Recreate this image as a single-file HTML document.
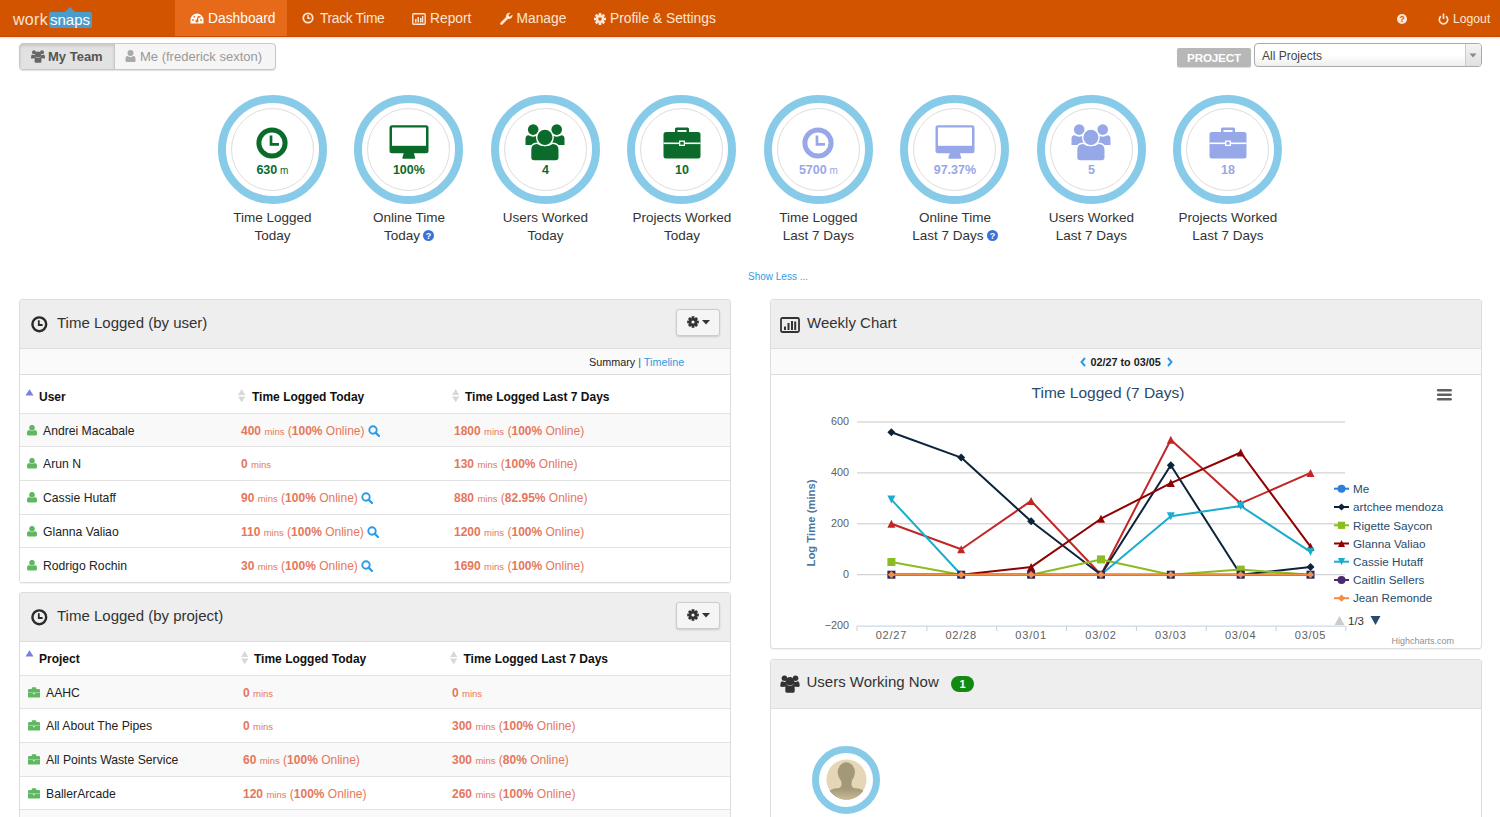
<!DOCTYPE html>
<html><head><meta charset="utf-8">
<style>
*{box-sizing:border-box;margin:0;padding:0}
html,body{width:1500px;height:817px;overflow:hidden;background:#fff;font-family:"Liberation Sans",sans-serif;color:#333;position:relative}
.a{position:absolute}
#hdr{left:0;top:0;width:1500px;height:37px;background:#d35400;border-bottom:1px solid #c54a00;box-shadow:0 1px 2px rgba(211,84,0,.25)}
.nav{top:0;height:36px;line-height:38px;font-size:13.8px;color:#fbe6d4;white-space:nowrap}
.nav svg{position:absolute}
.act{background:#e66a19;left:175px;width:112px;color:#fff}
.btng{left:19px;top:43px;width:257px;height:27px;border:1px solid #c8c8c8;border-radius:4px;background:#f5f5f5;box-shadow:0 1px 1px rgba(0,0,0,.12)}
.panel{border:1px solid #ddd;border-radius:3px;background:#fff;overflow:hidden;box-shadow:0 1px 1px rgba(0,0,0,.05)}
.ph{position:absolute;left:0;top:0;right:0;height:49px;background:#eee;border-bottom:1px solid #ddd}
.pt{position:absolute;top:14px;font-size:15px;color:#333;white-space:nowrap}
.gear{position:absolute;width:44px;height:27px;border:1px solid #ccc;border-radius:3px;background:#f5f5f5;box-shadow:0 1px 2px rgba(0,0,0,.15)}
.circ{width:109px;height:109px;border-radius:50%;border:8px solid #88cbe8;top:95px}
.circ .in{position:absolute;left:5px;top:5px;width:83px;height:83px;border-radius:50%;border:1px solid #ddd}
.lbl{top:209.3px;width:140px;text-align:center;font-size:13.5px;line-height:18px;color:#333}
.val{position:absolute;left:0;width:93px;top:62px;text-align:center;font-weight:bold;font-size:12.5px;line-height:14px}
.g{color:#0b6b2e}.p{color:#9aa5e8}
.valt{top:163px;width:100px;text-align:center;font-weight:bold;font-size:12.5px;line-height:14px}
.th{font-size:12px;font-weight:bold;color:#111;line-height:16px;white-space:nowrap}
.td{font-size:12.2px;color:#222;line-height:16px;white-space:nowrap}
.v{color:#e5775c;font-size:12px}
.v small{font-size:9.5px}
</style></head><body>
<div id="hdr" class="a"></div>
<!-- logo -->
<div class="a" style="left:13px;top:10px;font-size:16px;line-height:20px;color:#f7e4d6;letter-spacing:0.3px;font-weight:normal">work</div>
<svg class="a" style="left:48px;top:6px" width="45" height="23" viewBox="0 0 45 23"><path d="M17 6 L22 1 L27 6 Z" fill="#4a9ccb"/><rect x="1" y="6" width="43" height="16" rx="2" fill="#4a9ccb"/></svg>
<div class="a" style="left:50px;top:10px;font-size:15px;line-height:20px;color:#fff;letter-spacing:0px">snaps</div>
<!-- nav -->
<div class="a nav act"></div>
<svg class="a" style="left:189.5px;top:13px" width="14" height="12" viewBox="0 0 14 12"><path d="M7 0.5 A6.5 6.5 0 0 0 0.5 7 L0.5 10.5 L13.5 10.5 L13.5 7 A6.5 6.5 0 0 0 7 0.5Z" fill="#fff"/><circle cx="7" cy="8" r="1.6" fill="#e66a19"/><path d="M7 8 L8.5 3" stroke="#e66a19" stroke-width="1.3"/><circle cx="3" cy="7" r="0.9" fill="#e66a19"/><circle cx="4.2" cy="3.8" r="0.9" fill="#e66a19"/><circle cx="11" cy="7" r="0.9" fill="#e66a19"/><circle cx="9.8" cy="3.8" r="0.9" fill="#e66a19"/></svg>
<div class="a nav" style="left:208px;color:#fff">Dashboard</div>
<svg class="a" style="left:302px;top:12px" width="12" height="12" viewBox="0 0 12 12"><circle cx="6" cy="6" r="4.7" fill="none" stroke="#fbe6d4" stroke-width="1.8"/><path d="M6 3 V6.3 H8.3" fill="none" stroke="#fbe6d4" stroke-width="1.4"/></svg>
<div class="a nav" style="left:320px;letter-spacing:-0.33px">Track Time</div>
<svg class="a" style="left:412px;top:12.5px" width="14" height="12" viewBox="0 0 14 12"><rect x="0.8" y="0.8" width="12.4" height="10.4" rx="1" fill="none" stroke="#fbe6d4" stroke-width="1.4"/><rect x="3" y="6" width="1.5" height="3.5" fill="#fbe6d4"/><rect x="5.5" y="4" width="1.5" height="5.5" fill="#fbe6d4"/><rect x="8" y="5" width="1.5" height="4.5" fill="#fbe6d4"/><rect x="10" y="3" width="1.3" height="6.5" fill="#fbe6d4"/></svg>
<div class="a nav" style="left:430px">Report</div>
<svg class="a" style="left:500px;top:12px" width="13" height="13" viewBox="0 0 13 13"><path d="M1.5 11.5 L7 6" stroke="#fbe6d4" stroke-width="2.6" stroke-linecap="round"/><path d="M6 5 A3.6 3.6 0 0 1 10.5 0.8 L8.5 3 L9 4.3 L10.3 4.6 L12.3 2.6 A3.6 3.6 0 0 1 8 7 Z" fill="#fbe6d4"/></svg>
<div class="a nav" style="left:516.5px">Manage</div>
<svg class="a" style="left:594px;top:13px" width="12" height="12" viewBox="-6 -6 12 12"><g fill="#fbe6d4"><circle r="4"/><rect x="-1.3" y="-6" width="2.6" height="12"/><rect x="-1.3" y="-6" width="2.6" height="12" transform="rotate(45)"/><rect x="-1.3" y="-6" width="2.6" height="12" transform="rotate(90)"/><rect x="-1.3" y="-6" width="2.6" height="12" transform="rotate(135)"/></g><circle r="1.7" fill="#d35400"/></svg>
<div class="a nav" style="left:610px">Profile &amp; Settings</div>
<svg class="a" style="left:1397px;top:14px" width="10" height="10" viewBox="0 0 10 10"><circle cx="5" cy="5" r="5" fill="#fbe6d4"/><text x="5" y="8.3" font-size="8.5" font-weight="bold" text-anchor="middle" fill="#d35400" font-family="Liberation Sans">?</text></svg>
<svg class="a" style="left:1437.5px;top:13px" width="11" height="12" viewBox="0 0 11 12"><path d="M3 3.3 A4.2 4.2 0 1 0 8 3.3" fill="none" stroke="#fbe6d4" stroke-width="1.7"/><path d="M5.5 0.5 V6" stroke="#fbe6d4" stroke-width="1.7"/></svg>
<div class="a nav" style="left:1453px;font-size:12.2px">Logout</div>
<!-- button group -->
<div class="a btng"></div>
<div class="a" style="left:20px;top:44px;width:95px;height:25px;background:#e2e2e2;border-right:1px solid #c8c8c8;border-radius:3px 0 0 3px;box-shadow:inset 0 2px 3px rgba(0,0,0,.12)"></div>
<svg class="a" style="left:31px;top:50px" width="14" height="13" viewBox="0 0 14 13"><g fill="#666"><circle cx="3" cy="2.3" r="2"/><circle cx="11" cy="2.3" r="2"/><path d="M0 8 Q0 4.6 1.5 4.6 Q3 5.6 4.5 4.6 L5 4.8 Q4.2 7 5 8.3 L1 8.6 Q0 8.6 0 8Z"/><path d="M14 8 Q14 4.6 12.5 4.6 Q11 5.6 9.5 4.6 L9 4.8 Q9.8 7 9 8.3 L13 8.6 Q14 8.6 14 8Z"/><circle cx="7" cy="4.5" r="3"/><path d="M3.6 9.2 Q3.6 7.3 5 7.2 Q7 8.7 9 7.2 Q10.4 7.3 10.4 9.2 L10.4 11.8 Q10.4 12.8 9.4 12.8 L4.6 12.8 Q3.6 12.8 3.6 11.8Z"/></g></svg>
<div class="a" style="left:48px;top:49px;font-size:13px;font-weight:bold;color:#555;line-height:16px">My Team</div>
<svg class="a" style="left:125px;top:50px" width="11" height="12" viewBox="0 0 11 12"><g fill="#aaa"><circle cx="5.5" cy="3" r="3"/><path d="M0.5 9 Q0.5 6 2.5 6 Q5.5 8 8.5 6 Q10.5 6 10.5 9 L10.5 11 Q10.5 12 9.5 12 L1.5 12 Q0.5 12 0.5 11Z"/></g></svg>
<div class="a" style="left:140px;top:49px;font-size:13px;color:#999;line-height:16px">Me (frederick sexton)</div>
<!-- project -->
<div class="a" style="left:1177px;top:47.5px;width:74px;height:19.5px;background:#b7b7b7;border-radius:2px;box-shadow:0 1px 1px rgba(0,0,0,.15)"></div>
<div class="a" style="left:1177px;top:50px;width:74px;text-align:center;font-size:11.7px;font-weight:bold;color:#fff;line-height:16px;letter-spacing:-0.2px">PROJECT</div>
<div class="a" style="left:1254px;top:43px;width:228px;height:24px;border:1px solid #aaa;border-radius:4px;background:linear-gradient(#fff 0,#fff 50%,#eee 100%)"></div>
<div class="a" style="left:1465px;top:44px;width:16px;height:22px;border-left:1px solid #ccc;background:linear-gradient(#f4f4f4,#e0e0e0);border-radius:0 3px 3px 0"></div>
<svg class="a" style="left:1469px;top:53px" width="8" height="5" viewBox="0 0 8 5"><path d="M0.5 0.5 L7.5 0.5 L4 4.5Z" fill="#888"/></svg>
<div class="a" style="left:1262px;top:48px;font-size:12px;color:#444;line-height:16px">All Projects</div>
<!-- show less -->
<div class="a" style="left:748px;top:270px;font-size:10px;color:#2e9be8;line-height:14px">Show Less ...</div>
<div class="a circ" style="left:217.9px"><div class="in"></div></div>
<svg class="a" style="left:256.3px;top:126.8px" width="32" height="32" viewBox="0 0 32 32"><circle cx="16" cy="16" r="13.1" fill="none" stroke="#0b6b2b" stroke-width="5"/><path d="M15 8.5 V17.4 H23" fill="none" stroke="#0b6b2b" stroke-width="2.7"/></svg>
<div class="a valt" style="left:222.4px;color:#0b6b2b">630<span style="font-weight:normal;font-size:10px"> m</span></div>
<div class="a lbl" style="left:202.4px">Time Logged<br>Today</div>
<div class="a circ" style="left:354.4px"><div class="in"></div></div>
<svg class="a" style="left:388.9px;top:124.5px" width="40" height="34" viewBox="0 0 40 34"><rect x="0.5" y="0.3" width="39" height="28" rx="2.5" fill="#0b6b2b"/><rect x="3" y="2.5" width="34" height="18.3" fill="#fff"/><path d="M14.8 28 L24.8 28 L26.3 33 Q26.3 33.8 25.5 33.8 L14.1 33.8 Q13.3 33.8 13.3 33Z" fill="#0b6b2b"/></svg>
<div class="a valt" style="left:358.9px;color:#0b6b2b">100%</div>
<div class="a lbl" style="left:338.9px">Online Time<br>Today<svg style="vertical-align:-1px;margin-left:3px" width="11" height="11" viewBox="0 0 11 11"><circle cx="5.5" cy="5.5" r="5.5" fill="#3b72d6"/><text x="5.5" y="9" font-size="9" font-weight="bold" text-anchor="middle" fill="#fff" font-family="Liberation Sans">?</text></svg></div>
<div class="a circ" style="left:490.9px"><div class="in"></div></div>
<svg class="a" style="left:525.4px;top:124px" width="40" height="37" viewBox="0 0 40 37"><circle cx="8.2" cy="5.6" r="5.3" fill="#0b6b2b"/><circle cx="31.7" cy="5.6" r="5.3" fill="#0b6b2b"/><path d="M0.5 21 L0.5 15 Q0.5 11.3 3.5 11.3 Q8.2 14 12.9 11.3 L14 11.3 L14 21Z" fill="#0b6b2b"/><path d="M39.5 21 L39.5 15 Q39.5 11.3 36.5 11.3 Q31.7 14 27 11.3 L26 11.3 L26 21Z" fill="#0b6b2b"/><path d="M5.6 37 L5.6 26 Q5.6 19.2 12 19.2 Q19.9 24 27.8 19.2 Q34.2 19.2 34.2 26 L34.2 33.5 Q34.2 37 30.7 37 L9.1 37 Q5.6 37 5.6 33.5Z" fill="#0b6b2b" stroke="#fff" stroke-width="1.4"/><circle cx="19.9" cy="13.3" r="8.3" fill="#0b6b2b" stroke="#fff" stroke-width="1.4"/></svg>
<div class="a valt" style="left:495.4px;color:#0b6b2b">4</div>
<div class="a lbl" style="left:475.4px">Users Worked<br>Today</div>
<div class="a circ" style="left:627.4px"><div class="in"></div></div>
<svg class="a" style="left:662.9px;top:127px" width="38" height="32" viewBox="0 0 38 32"><path d="M12 5 V2 Q12 0.5 13.5 0.5 H24.5 Q26 0.5 26 2 V5 H23.5 V3 H14.5 V5Z" fill="#0b6b2b"/><rect x="0.5" y="5" width="37" height="26.5" rx="2.5" fill="#0b6b2b"/><rect x="0.5" y="15.5" width="37" height="1.6" fill="#fff"/><rect x="16" y="13.5" width="6" height="5.5" fill="#fff"/><rect x="17.3" y="14.8" width="3.4" height="2.9" fill="#0b6b2b"/></svg>
<div class="a valt" style="left:631.9px;color:#0b6b2b">10</div>
<div class="a lbl" style="left:611.9px">Projects Worked<br>Today</div>
<div class="a circ" style="left:763.9px"><div class="in"></div></div>
<svg class="a" style="left:802.3px;top:126.8px" width="32" height="32" viewBox="0 0 32 32"><circle cx="16" cy="16" r="13.1" fill="none" stroke="#97a8e8" stroke-width="5"/><path d="M15 8.5 V17.4 H23" fill="none" stroke="#97a8e8" stroke-width="2.7"/></svg>
<div class="a valt" style="left:768.4px;color:#97a8e8">5700<span style="font-weight:normal;font-size:10px"> m</span></div>
<div class="a lbl" style="left:748.4px">Time Logged<br>Last 7 Days</div>
<div class="a circ" style="left:900.4px"><div class="in"></div></div>
<svg class="a" style="left:934.9px;top:124.5px" width="40" height="34" viewBox="0 0 40 34"><rect x="0.5" y="0.3" width="39" height="28" rx="2.5" fill="#97a8e8"/><rect x="3" y="2.5" width="34" height="18.3" fill="#fff"/><path d="M14.8 28 L24.8 28 L26.3 33 Q26.3 33.8 25.5 33.8 L14.1 33.8 Q13.3 33.8 13.3 33Z" fill="#97a8e8"/></svg>
<div class="a valt" style="left:904.9px;color:#97a8e8">97.37%</div>
<div class="a lbl" style="left:884.9px">Online Time<br>Last 7 Days<svg style="vertical-align:-1px;margin-left:3px" width="11" height="11" viewBox="0 0 11 11"><circle cx="5.5" cy="5.5" r="5.5" fill="#3b72d6"/><text x="5.5" y="9" font-size="9" font-weight="bold" text-anchor="middle" fill="#fff" font-family="Liberation Sans">?</text></svg></div>
<div class="a circ" style="left:1036.9px"><div class="in"></div></div>
<svg class="a" style="left:1071.4px;top:124px" width="40" height="37" viewBox="0 0 40 37"><circle cx="8.2" cy="5.6" r="5.3" fill="#97a8e8"/><circle cx="31.7" cy="5.6" r="5.3" fill="#97a8e8"/><path d="M0.5 21 L0.5 15 Q0.5 11.3 3.5 11.3 Q8.2 14 12.9 11.3 L14 11.3 L14 21Z" fill="#97a8e8"/><path d="M39.5 21 L39.5 15 Q39.5 11.3 36.5 11.3 Q31.7 14 27 11.3 L26 11.3 L26 21Z" fill="#97a8e8"/><path d="M5.6 37 L5.6 26 Q5.6 19.2 12 19.2 Q19.9 24 27.8 19.2 Q34.2 19.2 34.2 26 L34.2 33.5 Q34.2 37 30.7 37 L9.1 37 Q5.6 37 5.6 33.5Z" fill="#97a8e8" stroke="#fff" stroke-width="1.4"/><circle cx="19.9" cy="13.3" r="8.3" fill="#97a8e8" stroke="#fff" stroke-width="1.4"/></svg>
<div class="a valt" style="left:1041.4px;color:#97a8e8">5</div>
<div class="a lbl" style="left:1021.4px">Users Worked<br>Last 7 Days</div>
<div class="a circ" style="left:1173.4px"><div class="in"></div></div>
<svg class="a" style="left:1208.9px;top:127px" width="38" height="32" viewBox="0 0 38 32"><path d="M12 5 V2 Q12 0.5 13.5 0.5 H24.5 Q26 0.5 26 2 V5 H23.5 V3 H14.5 V5Z" fill="#97a8e8"/><rect x="0.5" y="5" width="37" height="26.5" rx="2.5" fill="#97a8e8"/><rect x="0.5" y="15.5" width="37" height="1.6" fill="#fff"/><rect x="16" y="13.5" width="6" height="5.5" fill="#fff"/><rect x="17.3" y="14.8" width="3.4" height="2.9" fill="#97a8e8"/></svg>
<div class="a valt" style="left:1177.9px;color:#97a8e8">18</div>
<div class="a lbl" style="left:1157.9px">Projects Worked<br>Last 7 Days</div>
<div class="a panel" style="left:19px;top:299px;width:712px;height:284px">
<div class="ph"></div>
<svg class="a" style="left:11px;top:16px" width="17" height="17" viewBox="0 0 17 17"><circle cx="8.3" cy="8.3" r="6.9" fill="none" stroke="#2a2a2a" stroke-width="2.4"/><path d="M7.8 4.2 V9 H11.6" fill="none" stroke="#2a2a2a" stroke-width="1.8"/></svg>
<div class="pt" style="left:37px">Time Logged (by user)</div>
<div class="gear" style="left:656px;top:9px"></div><svg class="a" style="left:667px;top:16px" width="12" height="12" viewBox="-6 -6 12 12"><g fill="#333"><circle r="4.1"/><rect x="-1.4" y="-5.8" width="2.8" height="11.6"/><rect x="-1.4" y="-5.8" width="2.8" height="11.6" transform="rotate(45)"/><rect x="-1.4" y="-5.8" width="2.8" height="11.6" transform="rotate(90)"/><rect x="-1.4" y="-5.8" width="2.8" height="11.6" transform="rotate(135)"/></g><circle r="1.6" fill="#f5f5f5"/></svg><svg class="a" style="left:682px;top:20px" width="8" height="5" viewBox="0 0 8 5"><path d="M0 0 H8 L4 4.5Z" fill="#333"/></svg>
<div class="a" style="left:0;top:49px;width:711px;height:26px;background:#fafafa;border-bottom:1px solid #ddd"></div>
<div class="a" style="left:569px;top:55px;font-size:10.8px;line-height:14px;color:#222;white-space:nowrap">Summary <span style="color:#555">|</span> <span style="color:#2f9be0">Timeline</span></div>
<svg class="a" style="left:5px;top:88.5px" width="9" height="7" viewBox="0 0 9 7"><path d="M0.5 6.5 L4.5 0.3 L8.5 6.5Z" fill="#7a7ee0"/></svg>
<div class="a th" style="left:19px;top:89px">User</div>
<svg class="a" style="left:218px;top:89px" width="7.4" height="13.4" viewBox="0 0 7 13"><path d="M0 5.8 L3.5 0 L7 5.8Z" fill="#d8d8d8"/><path d="M0 7.2 L3.5 13 L7 7.2Z" fill="#d8d8d8"/></svg>
<div class="a th" style="left:232px;top:89px">Time Logged Today</div>
<svg class="a" style="left:432px;top:89px" width="7.4" height="13.4" viewBox="0 0 7 13"><path d="M0 5.8 L3.5 0 L7 5.8Z" fill="#d8d8d8"/><path d="M0 7.2 L3.5 13 L7 7.2Z" fill="#d8d8d8"/></svg>
<div class="a th" style="left:445px;top:89px">Time Logged Last 7 Days</div>
<div class="a" style="left:0;top:113px;width:711px;height:33px;background:#f9f9f9;border-top:1px solid #e2e2e2"></div>
<svg class="a" style="left:7px;top:124.9px" width="10" height="11" viewBox="0 0 10 11"><g fill="#5fb85f"><circle cx="5" cy="2.7" r="2.8"/><path d="M0 7.6 Q0 5.3 2.2 5.1 Q5 6.9 7.8 5.1 Q10 5.3 10 7.6 L10 9 Q10 10.6 8.4 10.6 L1.6 10.6 Q0 10.6 0 9Z"/></g></svg>
<div class="a td" style="left:23px;top:122.6px">Andrei Macabale</div>
<div class="a td v" style="left:221px;top:122.6px"><b>400</b> <small>mins</small> (<b>100%</b> Online) <svg style="vertical-align:-2px" width="12" height="12" viewBox="0 0 12 12"><circle cx="5" cy="5" r="3.7" fill="none" stroke="#2b9be8" stroke-width="1.9"/><path d="M7.6 7.6 L11 11" stroke="#2b9be8" stroke-width="2.2" stroke-linecap="round"/></svg></div>
<div class="a td v" style="left:434px;top:122.6px"><b>1800</b> <small>mins</small> (<b>100%</b> Online)</div>
<div class="a" style="left:0;top:146px;width:711px;height:34px;background:#fff;border-top:1px solid #e2e2e2"></div>
<svg class="a" style="left:7px;top:158.4px" width="10" height="11" viewBox="0 0 10 11"><g fill="#5fb85f"><circle cx="5" cy="2.7" r="2.8"/><path d="M0 7.6 Q0 5.3 2.2 5.1 Q5 6.9 7.8 5.1 Q10 5.3 10 7.6 L10 9 Q10 10.6 8.4 10.6 L1.6 10.6 Q0 10.6 0 9Z"/></g></svg>
<div class="a td" style="left:23px;top:156.1px">Arun N</div>
<div class="a td v" style="left:221px;top:156.1px"><b>0</b> <small>mins</small></div>
<div class="a td v" style="left:434px;top:156.1px"><b>130</b> <small>mins</small> (<b>100%</b> Online)</div>
<div class="a" style="left:0;top:180px;width:711px;height:34px;background:#fff;border-top:1px solid #e2e2e2"></div>
<svg class="a" style="left:7px;top:192.4px" width="10" height="11" viewBox="0 0 10 11"><g fill="#5fb85f"><circle cx="5" cy="2.7" r="2.8"/><path d="M0 7.6 Q0 5.3 2.2 5.1 Q5 6.9 7.8 5.1 Q10 5.3 10 7.6 L10 9 Q10 10.6 8.4 10.6 L1.6 10.6 Q0 10.6 0 9Z"/></g></svg>
<div class="a td" style="left:23px;top:190.1px">Cassie Hutaff</div>
<div class="a td v" style="left:221px;top:190.1px"><b>90</b> <small>mins</small> (<b>100%</b> Online) <svg style="vertical-align:-2px" width="12" height="12" viewBox="0 0 12 12"><circle cx="5" cy="5" r="3.7" fill="none" stroke="#2b9be8" stroke-width="1.9"/><path d="M7.6 7.6 L11 11" stroke="#2b9be8" stroke-width="2.2" stroke-linecap="round"/></svg></div>
<div class="a td v" style="left:434px;top:190.1px"><b>880</b> <small>mins</small> (<b>82.95%</b> Online)</div>
<div class="a" style="left:0;top:214px;width:711px;height:33px;background:#fff;border-top:1px solid #e2e2e2"></div>
<svg class="a" style="left:7px;top:225.9px" width="10" height="11" viewBox="0 0 10 11"><g fill="#5fb85f"><circle cx="5" cy="2.7" r="2.8"/><path d="M0 7.6 Q0 5.3 2.2 5.1 Q5 6.9 7.8 5.1 Q10 5.3 10 7.6 L10 9 Q10 10.6 8.4 10.6 L1.6 10.6 Q0 10.6 0 9Z"/></g></svg>
<div class="a td" style="left:23px;top:223.6px">Glanna Valiao</div>
<div class="a td v" style="left:221px;top:223.6px"><b>110</b> <small>mins</small> (<b>100%</b> Online) <svg style="vertical-align:-2px" width="12" height="12" viewBox="0 0 12 12"><circle cx="5" cy="5" r="3.7" fill="none" stroke="#2b9be8" stroke-width="1.9"/><path d="M7.6 7.6 L11 11" stroke="#2b9be8" stroke-width="2.2" stroke-linecap="round"/></svg></div>
<div class="a td v" style="left:434px;top:223.6px"><b>1200</b> <small>mins</small> (<b>100%</b> Online)</div>
<div class="a" style="left:0;top:247px;width:711px;height:35px;background:#fff;border-top:1px solid #e2e2e2"></div>
<svg class="a" style="left:7px;top:259.9px" width="10" height="11" viewBox="0 0 10 11"><g fill="#5fb85f"><circle cx="5" cy="2.7" r="2.8"/><path d="M0 7.6 Q0 5.3 2.2 5.1 Q5 6.9 7.8 5.1 Q10 5.3 10 7.6 L10 9 Q10 10.6 8.4 10.6 L1.6 10.6 Q0 10.6 0 9Z"/></g></svg>
<div class="a td" style="left:23px;top:257.6px">Rodrigo Rochin</div>
<div class="a td v" style="left:221px;top:257.6px"><b>30</b> <small>mins</small> (<b>100%</b> Online) <svg style="vertical-align:-2px" width="12" height="12" viewBox="0 0 12 12"><circle cx="5" cy="5" r="3.7" fill="none" stroke="#2b9be8" stroke-width="1.9"/><path d="M7.6 7.6 L11 11" stroke="#2b9be8" stroke-width="2.2" stroke-linecap="round"/></svg></div>
<div class="a td v" style="left:434px;top:257.6px"><b>1690</b> <small>mins</small> (<b>100%</b> Online)</div>
</div>
<div class="a panel" style="left:19px;top:592px;width:712px;height:240px">
<div class="ph"></div>
<svg class="a" style="left:11px;top:16px" width="17" height="17" viewBox="0 0 17 17"><circle cx="8.3" cy="8.3" r="6.9" fill="none" stroke="#2a2a2a" stroke-width="2.4"/><path d="M7.8 4.2 V9 H11.6" fill="none" stroke="#2a2a2a" stroke-width="1.8"/></svg>
<div class="pt" style="left:37px">Time Logged (by project)</div>
<div class="gear" style="left:656px;top:9px"></div><svg class="a" style="left:667px;top:16px" width="12" height="12" viewBox="-6 -6 12 12"><g fill="#333"><circle r="4.1"/><rect x="-1.4" y="-5.8" width="2.8" height="11.6"/><rect x="-1.4" y="-5.8" width="2.8" height="11.6" transform="rotate(45)"/><rect x="-1.4" y="-5.8" width="2.8" height="11.6" transform="rotate(90)"/><rect x="-1.4" y="-5.8" width="2.8" height="11.6" transform="rotate(135)"/></g><circle r="1.6" fill="#f5f5f5"/></svg><svg class="a" style="left:682px;top:20px" width="8" height="5" viewBox="0 0 8 5"><path d="M0 0 H8 L4 4.5Z" fill="#333"/></svg>
<svg class="a" style="left:5px;top:56.5px" width="9" height="7" viewBox="0 0 9 7"><path d="M0.5 6.5 L4.5 0.3 L8.5 6.5Z" fill="#7a7ee0"/></svg>
<div class="a th" style="left:19px;top:57.8px">Project</div>
<svg class="a" style="left:221px;top:57.5px" width="7.4" height="13.4" viewBox="0 0 7 13"><path d="M0 5.8 L3.5 0 L7 5.8Z" fill="#d8d8d8"/><path d="M0 7.2 L3.5 13 L7 7.2Z" fill="#d8d8d8"/></svg>
<div class="a th" style="left:234px;top:57.8px">Time Logged Today</div>
<svg class="a" style="left:430px;top:57.5px" width="7.4" height="13.4" viewBox="0 0 7 13"><path d="M0 5.8 L3.5 0 L7 5.8Z" fill="#d8d8d8"/><path d="M0 7.2 L3.5 13 L7 7.2Z" fill="#d8d8d8"/></svg>
<div class="a th" style="left:443.5px;top:57.8px">Time Logged Last 7 Days</div>
<div class="a" style="left:0;top:82px;width:711px;height:33px;background:#f9f9f9;border-top:1px solid #e2e2e2"></div>
<svg class="a" style="left:7.5px;top:93.9px" width="12" height="11" viewBox="0 0 12 11"><path d="M3.8 2 V0.6 Q3.8 0.2 4.3 0.2 H7.7 Q8.2 0.2 8.2 0.6 V2Z" fill="#5fb85f"/><rect x="0" y="2" width="12" height="8.6" rx="1.2" fill="#5fb85f"/><rect x="0" y="5.2" width="12" height="0.7" fill="#a8dca8"/><path d="M4.8 6.2 H7.2 L6.8 7.3 H5.2Z" fill="#e8f5e8"/></svg>
<div class="a td" style="left:26px;top:91.6px">AAHC</div>
<div class="a td v" style="left:223px;top:91.6px"><b>0</b> <small>mins</small></div>
<div class="a td v" style="left:432px;top:91.6px"><b>0</b> <small>mins</small></div>
<div class="a" style="left:0;top:115px;width:711px;height:34px;background:#fff;border-top:1px solid #e2e2e2"></div>
<svg class="a" style="left:7.5px;top:127.4px" width="12" height="11" viewBox="0 0 12 11"><path d="M3.8 2 V0.6 Q3.8 0.2 4.3 0.2 H7.7 Q8.2 0.2 8.2 0.6 V2Z" fill="#5fb85f"/><rect x="0" y="2" width="12" height="8.6" rx="1.2" fill="#5fb85f"/><rect x="0" y="5.2" width="12" height="0.7" fill="#a8dca8"/><path d="M4.8 6.2 H7.2 L6.8 7.3 H5.2Z" fill="#e8f5e8"/></svg>
<div class="a td" style="left:26px;top:125.1px">All About The Pipes</div>
<div class="a td v" style="left:223px;top:125.1px"><b>0</b> <small>mins</small></div>
<div class="a td v" style="left:432px;top:125.1px"><b>300</b> <small>mins</small> (<b>100%</b> Online)</div>
<div class="a" style="left:0;top:149px;width:711px;height:34px;background:#f9f9f9;border-top:1px solid #e2e2e2"></div>
<svg class="a" style="left:7.5px;top:161.4px" width="12" height="11" viewBox="0 0 12 11"><path d="M3.8 2 V0.6 Q3.8 0.2 4.3 0.2 H7.7 Q8.2 0.2 8.2 0.6 V2Z" fill="#5fb85f"/><rect x="0" y="2" width="12" height="8.6" rx="1.2" fill="#5fb85f"/><rect x="0" y="5.2" width="12" height="0.7" fill="#a8dca8"/><path d="M4.8 6.2 H7.2 L6.8 7.3 H5.2Z" fill="#e8f5e8"/></svg>
<div class="a td" style="left:26px;top:159.1px">All Points Waste Service</div>
<div class="a td v" style="left:223px;top:159.1px"><b>60</b> <small>mins</small> (<b>100%</b> Online)</div>
<div class="a td v" style="left:432px;top:159.1px"><b>300</b> <small>mins</small> (<b>80%</b> Online)</div>
<div class="a" style="left:0;top:183px;width:711px;height:33px;background:#fff;border-top:1px solid #e2e2e2"></div>
<svg class="a" style="left:7.5px;top:194.9px" width="12" height="11" viewBox="0 0 12 11"><path d="M3.8 2 V0.6 Q3.8 0.2 4.3 0.2 H7.7 Q8.2 0.2 8.2 0.6 V2Z" fill="#5fb85f"/><rect x="0" y="2" width="12" height="8.6" rx="1.2" fill="#5fb85f"/><rect x="0" y="5.2" width="12" height="0.7" fill="#a8dca8"/><path d="M4.8 6.2 H7.2 L6.8 7.3 H5.2Z" fill="#e8f5e8"/></svg>
<div class="a td" style="left:26px;top:192.6px">BallerArcade</div>
<div class="a td v" style="left:223px;top:192.6px"><b>120</b> <small>mins</small> (<b>100%</b> Online)</div>
<div class="a td v" style="left:432px;top:192.6px"><b>260</b> <small>mins</small> (<b>100%</b> Online)</div>
<div class="a" style="left:0;top:216px;width:711px;height:34px;background:#f9f9f9;border-top:1px solid #e2e2e2"></div>
</div>
<!-- weekly chart panel -->
<div class="a panel" style="left:770px;top:299px;width:712px;height:350px">
<div class="ph"></div>
<svg class="a" style="left:9px;top:17px" width="20" height="16" viewBox="0 0 20 16"><rect x="1" y="1" width="18" height="14" rx="1.5" fill="none" stroke="#333" stroke-width="1.8"/><rect x="4" y="9.5" width="2" height="3.5" fill="#333"/><rect x="7.5" y="6" width="2" height="7" fill="#333"/><rect x="11" y="4" width="2" height="9" fill="#333"/><rect x="14.2" y="4.5" width="2" height="8.5" fill="#333"/></svg>
<div class="pt" style="left:36px">Weekly Chart</div>
<div class="a" style="left:0;top:49px;width:711px;height:26px;background:#fafafa;border-bottom:1px solid #ddd"></div>
<svg class="a" style="left:308.5px;top:57px" width="6" height="10" viewBox="0 0 6 10"><path d="M5 1 L1.5 5 L5 9" fill="none" stroke="#2b9be8" stroke-width="2"/></svg>
<div class="a" style="left:319.5px;top:55px;font-size:10.8px;font-weight:bold;line-height:14px;color:#222;white-space:nowrap">02/27 to 03/05</div>
<svg class="a" style="left:396px;top:57px" width="6" height="10" viewBox="0 0 6 10"><path d="M1 1 L4.5 5 L1 9" fill="none" stroke="#2b9be8" stroke-width="2"/></svg>
</div>
<svg class="a" style="left:770px;top:374px" width="711" height="273" viewBox="770 374 711 273" font-family="Liberation Sans">
<text x="1108" y="397.5" text-anchor="middle" font-size="15.5" fill="#274b6d">Time Logged (7 Days)</text>
<path d="M1438.2 390.3 H1450.6" stroke="#606060" stroke-width="2.6" stroke-linecap="round"/>
<path d="M1438.2 394.8 H1450.6" stroke="#606060" stroke-width="2.6" stroke-linecap="round"/>
<path d="M1438.2 399.3 H1450.6" stroke="#606060" stroke-width="2.6" stroke-linecap="round"/>
<rect x="857" y="421.5" width="488" height="1" fill="#c8c8c8"/>
<rect x="857" y="472.4" width="488" height="1" fill="#c8c8c8"/>
<rect x="857" y="523.3" width="488" height="1" fill="#c8c8c8"/>
<rect x="857" y="574.2" width="488" height="1" fill="#c8c8c8"/>
<rect x="857" y="625.6" width="488" height="1" fill="#c0d0e0"/>
<rect x="856.5" y="626" width="1" height="5" fill="#c0d0e0"/>
<rect x="926.4" y="626" width="1" height="5" fill="#c0d0e0"/>
<rect x="996.2" y="626" width="1" height="5" fill="#c0d0e0"/>
<rect x="1066.0" y="626" width="1" height="5" fill="#c0d0e0"/>
<rect x="1135.9" y="626" width="1" height="5" fill="#c0d0e0"/>
<rect x="1205.8" y="626" width="1" height="5" fill="#c0d0e0"/>
<rect x="1275.6" y="626" width="1" height="5" fill="#c0d0e0"/>
<rect x="1345.4" y="626" width="1" height="5" fill="#c0d0e0"/>
<text x="849" y="425.0" text-anchor="end" font-size="10.8" fill="#606060">600</text>
<text x="849" y="475.9" text-anchor="end" font-size="10.8" fill="#606060">400</text>
<text x="849" y="526.8" text-anchor="end" font-size="10.8" fill="#606060">200</text>
<text x="849" y="577.7" text-anchor="end" font-size="10.8" fill="#606060">0</text>
<text x="849" y="628.6" text-anchor="end" font-size="10.8" fill="#606060">−200</text>
<text transform="translate(815.3 523) rotate(-90)" text-anchor="middle" font-size="11.3" font-weight="bold" fill="#4d759e">Log Time (mins)</text>
<text x="891.4" y="639" text-anchor="middle" font-size="11" letter-spacing="0.8" fill="#606060">02/27</text>
<text x="961.2" y="639" text-anchor="middle" font-size="11" letter-spacing="0.8" fill="#606060">02/28</text>
<text x="1031.1" y="639" text-anchor="middle" font-size="11" letter-spacing="0.8" fill="#606060">03/01</text>
<text x="1101.0" y="639" text-anchor="middle" font-size="11" letter-spacing="0.8" fill="#606060">03/02</text>
<text x="1170.8" y="639" text-anchor="middle" font-size="11" letter-spacing="0.8" fill="#606060">03/03</text>
<text x="1240.7" y="639" text-anchor="middle" font-size="11" letter-spacing="0.8" fill="#606060">03/04</text>
<text x="1310.5" y="639" text-anchor="middle" font-size="11" letter-spacing="0.8" fill="#606060">03/05</text>
<polyline points="891.4,523.8 961.2,549.2 1031.1,500.9 1101.0,574.7 1170.8,439.8 1240.7,503.4 1310.5,472.9" fill="none" stroke="#c42525" stroke-width="2" stroke-linejoin="round"/>
<path d="M891.4 519.8 L895.4 527.8 L887.4 527.8Z" fill="#c42525"/>
<path d="M961.2 545.2 L965.2 553.2 L957.2 553.2Z" fill="#c42525"/>
<path d="M1031.1 496.9 L1035.1 504.9 L1027.1 504.9Z" fill="#c42525"/>
<path d="M1170.8 435.8 L1174.8 443.8 L1166.8 443.8Z" fill="#c42525"/>
<path d="M1240.7 499.4 L1244.7 507.4 L1236.7 507.4Z" fill="#c42525"/>
<path d="M1310.5 468.9 L1314.5 476.9 L1306.5 476.9Z" fill="#c42525"/>
<polyline points="891.4,574.7 961.2,574.7 1031.1,574.7 1101.0,574.7 1170.8,574.7 1240.7,574.7 1310.5,574.7" fill="none" stroke="#2f7ed8" stroke-width="2" stroke-linejoin="round"/>
<polyline points="891.4,432.2 961.2,457.6 1031.1,521.3 1101.0,574.7 1170.8,465.3 1240.7,574.7 1310.5,567.1" fill="none" stroke="#0d233a" stroke-width="2" stroke-linejoin="round"/>
<path d="M891.4 428.2 L895.4 432.2 L891.4 436.2 L887.4 432.2Z" fill="#0d233a"/>
<path d="M961.2 453.6 L965.2 457.6 L961.2 461.6 L957.2 457.6Z" fill="#0d233a"/>
<path d="M1031.1 517.3 L1035.1 521.3 L1031.1 525.3 L1027.1 521.3Z" fill="#0d233a"/>
<path d="M1170.8 461.3 L1174.8 465.3 L1170.8 469.3 L1166.8 465.3Z" fill="#0d233a"/>
<path d="M1310.5 563.1 L1314.5 567.1 L1310.5 571.1 L1306.5 567.1Z" fill="#0d233a"/>
<polyline points="891.4,562.0 961.2,574.7 1031.1,574.7 1101.0,559.4 1170.8,574.7 1240.7,569.6 1310.5,574.7" fill="none" stroke="#8bbc21" stroke-width="2" stroke-linejoin="round"/>
<rect x="887.4" y="558.0" width="8" height="8" fill="#8bbc21"/>
<rect x="1097.0" y="555.4" width="8" height="8" fill="#8bbc21"/>
<rect x="1236.7" y="565.6" width="8" height="8" fill="#8bbc21"/>
<polyline points="891.4,574.7 961.2,574.7 1031.1,567.1 1101.0,518.7 1170.8,483.1 1240.7,452.5 1310.5,546.7" fill="none" stroke="#910000" stroke-width="2" stroke-linejoin="round"/>
<path d="M1031.1 563.1 L1035.1 571.1 L1027.1 571.1Z" fill="#910000"/>
<path d="M1101.0 514.7 L1105.0 522.7 L1097.0 522.7Z" fill="#910000"/>
<path d="M1170.8 479.1 L1174.8 487.1 L1166.8 487.1Z" fill="#910000"/>
<path d="M1240.7 448.5 L1244.7 456.5 L1236.7 456.5Z" fill="#910000"/>
<path d="M1310.5 542.7 L1314.5 550.7 L1306.5 550.7Z" fill="#910000"/>
<polyline points="891.4,499.6 961.2,574.7 1031.1,574.7 1101.0,574.7 1170.8,516.2 1240.7,506.0 1310.5,551.8" fill="none" stroke="#1aadce" stroke-width="2" stroke-linejoin="round"/>
<path d="M887.4 495.6 L895.4 495.6 L891.4 503.6Z" fill="#1aadce"/>
<path d="M1166.8 512.2 L1174.8 512.2 L1170.8 520.2Z" fill="#1aadce"/>
<path d="M1236.7 502.0 L1244.7 502.0 L1240.7 510.0Z" fill="#1aadce"/>
<path d="M1306.5 547.8 L1314.5 547.8 L1310.5 555.8Z" fill="#1aadce"/>
<polyline points="891.4,574.7 961.2,574.7 1031.1,574.7 1101.0,574.7 1170.8,574.7 1240.7,574.7 1310.5,574.7" fill="none" stroke="#492970" stroke-width="2" stroke-linejoin="round"/>
<rect x="887.4" y="570.7" width="8" height="8" fill="#2c2760"/>
<rect x="957.2" y="570.7" width="8" height="8" fill="#2c2760"/>
<rect x="1027.1" y="570.7" width="8" height="8" fill="#2c2760"/>
<rect x="1097.0" y="570.7" width="8" height="8" fill="#2c2760"/>
<rect x="1166.8" y="570.7" width="8" height="8" fill="#2c2760"/>
<rect x="1236.7" y="570.7" width="8" height="8" fill="#2c2760"/>
<rect x="1306.5" y="570.7" width="8" height="8" fill="#2c2760"/>
<polyline points="891.4,574.7 961.2,574.7 1031.1,574.7 1101.0,574.7 1170.8,574.7 1240.7,574.7 1310.5,574.7" fill="none" stroke="#f28f43" stroke-width="2"/>
<path d="M891.4 571.1 L895.0 574.7 L891.4 578.3 L887.8 574.7Z" fill="#f28f43"/>
<path d="M961.2 571.1 L964.9 574.7 L961.2 578.3 L957.6 574.7Z" fill="#f28f43"/>
<path d="M1031.1 571.1 L1034.7 574.7 L1031.1 578.3 L1027.5 574.7Z" fill="#f28f43"/>
<path d="M1101.0 571.1 L1104.5 574.7 L1101.0 578.3 L1097.4 574.7Z" fill="#f28f43"/>
<path d="M1170.8 571.1 L1174.4 574.7 L1170.8 578.3 L1167.2 574.7Z" fill="#f28f43"/>
<path d="M1240.7 571.1 L1244.2 574.7 L1240.7 578.3 L1237.1 574.7Z" fill="#f28f43"/>
<path d="M1310.5 571.1 L1314.1 574.7 L1310.5 578.3 L1306.9 574.7Z" fill="#f28f43"/>
<rect x="1334" y="487.7" width="15" height="2" fill="#2f7ed8"/>
<circle cx="1341.5" cy="488.7" r="4" fill="#2f7ed8"/>
<text x="1353" y="492.9" font-size="11.7" fill="#274b6d">Me</text>
<rect x="1334" y="506.0" width="15" height="2" fill="#0d233a"/>
<path d="M1341.5 503.4 L1345.1 507.0 L1341.5 510.6 L1337.9 507.0Z" fill="#0d233a"/>
<text x="1353" y="511.2" font-size="11.7" fill="#274b6d">artchee mendoza</text>
<rect x="1334" y="524.3" width="15" height="2" fill="#8bbc21"/>
<rect x="1337.9" y="521.7" width="7.2" height="7.2" fill="#8bbc21"/>
<text x="1353" y="529.5" font-size="11.7" fill="#274b6d">Rigette Saycon</text>
<rect x="1334" y="542.5" width="15" height="2" fill="#910000"/>
<path d="M1341.5 539.9 L1345.1 547.1 L1337.9 547.1Z" fill="#910000"/>
<text x="1353" y="547.7" font-size="11.7" fill="#274b6d">Glanna Valiao</text>
<rect x="1334" y="560.7" width="15" height="2" fill="#1aadce"/>
<path d="M1337.9 558.1 L1345.1 558.1 L1341.5 565.3Z" fill="#1aadce"/>
<text x="1353" y="565.9" font-size="11.7" fill="#274b6d">Cassie Hutaff</text>
<rect x="1334" y="579.0" width="15" height="2" fill="#492970"/>
<circle cx="1341.5" cy="580.0" r="4" fill="#492970"/>
<text x="1353" y="584.2" font-size="11.7" fill="#274b6d">Caitlin Sellers</text>
<rect x="1334" y="597.2" width="15" height="2" fill="#f28f43"/>
<path d="M1341.5 594.6 L1345.1 598.2 L1341.5 601.8 L1337.9 598.2Z" fill="#f28f43"/>
<text x="1353" y="602.4" font-size="11.7" fill="#274b6d">Jean Remonde</text>
<path d="M1334.5 625 L1339.5 616 L1344.5 625Z" fill="#ccc"/>
<text x="1348" y="624.5" font-size="11.5" fill="#333">1/3</text>
<path d="M1370.5 616 L1380.5 616 L1375.5 625Z" fill="#274b6d"/>
<text x="1454" y="644" text-anchor="end" font-size="9" fill="#909090">Highcharts.com</text>
</svg>
<!-- users working now -->
<div class="a panel" style="left:770px;top:659px;width:712px;height:200px">
<div class="ph"></div>
<svg class="a" style="left:9px;top:15px" width="20" height="18" viewBox="0 0 14 13"><g fill="#333"><circle cx="3" cy="2.3" r="2"/><circle cx="11" cy="2.3" r="2"/><path d="M0 8 Q0 4.6 1.5 4.6 Q3 5.6 4.5 4.6 L5 4.8 Q4.2 7 5 8.3 L1 8.6 Q0 8.6 0 8Z"/><path d="M14 8 Q14 4.6 12.5 4.6 Q11 5.6 9.5 4.6 L9 4.8 Q9.8 7 9 8.3 L13 8.6 Q14 8.6 14 8Z"/><circle cx="7" cy="4.5" r="3"/><path d="M3.6 9.2 Q3.6 7.3 5 7.2 Q7 8.7 9 7.2 Q10.4 7.3 10.4 9.2 L10.4 11.8 Q10.4 12.8 9.4 12.8 L4.6 12.8 Q3.6 12.8 3.6 11.8Z"/></g></svg>
<div class="pt" style="left:35.5px;top:13px">Users Working Now</div>
<div class="a" style="left:180px;top:16px;width:23px;height:16px;border-radius:8px;background:#128a12;color:#fff;font-size:11px;font-weight:bold;text-align:center;line-height:16px">1</div>
<div class="a" style="left:41px;top:85.5px;width:68px;height:68px;border-radius:50%;border:7px solid #88cbe8;background:#fff"></div>
<svg class="a" style="left:55px;top:98.5px" width="41" height="41" viewBox="0 0 41 41"><defs><clipPath id="cc"><circle cx="20.5" cy="20.5" r="20"/></clipPath><linearGradient id="sg" x1="0" y1="0" x2="0" y2="1"><stop offset="0" stop-color="#a39878"/><stop offset="1" stop-color="#cbbc95"/></linearGradient></defs><circle cx="20.5" cy="20.5" r="20" fill="#e4d6b6"/><g clip-path="url(#cc)"><ellipse cx="20.3" cy="13.5" rx="8.6" ry="10.3" fill="#a39878"/><path d="M14.8 21 Q16.5 26 14.5 28 Q13 29.5 11 29.6 Q5 30 3 33 L3 41 L38 41 L38 33 Q36 30 30 29.6 Q28 29.5 26.5 28 Q24.5 26 26.2 21Z" fill="#a39878"/><path d="M3 33 Q5 30 11 29.6 L30 29.6 Q36 30 38 33 L38 41 L3 41Z" fill="url(#sg)"/></g></svg>
</div>
</body></html>
